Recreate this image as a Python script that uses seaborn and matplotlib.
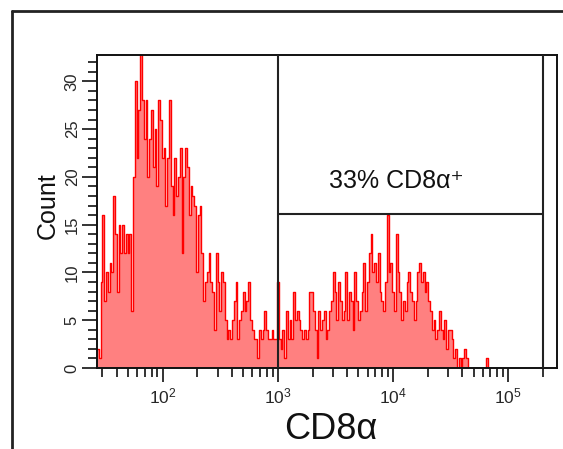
import numpy as np
import pandas as pd
import matplotlib
matplotlib.use("Agg")
import matplotlib.pyplot as plt
from matplotlib.lines import Line2D
from matplotlib.ticker import FixedLocator, FixedFormatter, MultipleLocator, LogLocator, NullFormatter
import seaborn as sns

# CD8α fluorescence histogram: 64 channels per decade, first channel starts at 10^1.43
log_start = 1.43
channels_per_decade = 64
counts = [
    2, 1, 9, 16, 7, 10, 8, 11, 10, 18, 14, 8, 15, 12, 15, 12, 14, 12, 14, 6,
    20, 30, 22, 27, 33, 28, 24, 28, 20, 24, 27, 21, 25, 19, 28, 26, 22, 23, 17, 22,
    28, 19, 16, 22, 18, 20, 23, 12, 20, 23, 21, 16, 19, 18, 17, 10, 16, 17, 12, 7,
    9, 10, 12, 9, 8, 4, 12, 9, 6, 10, 9, 5, 3, 4, 3, 5, 7, 9, 3, 5,
    6, 8, 6, 7, 9, 5, 4, 3, 3, 1, 4, 3, 4, 6, 4, 3, 3, 4, 3, 3,
    9, 3, 2, 4, 1, 6, 3, 5, 3, 8, 5, 6, 5, 4, 3, 4, 3, 4, 8, 8,
    6, 4, 1, 6, 4, 5, 6, 3, 4, 6, 7, 10, 8, 5, 9, 7, 5, 6, 10, 5,
    8, 7, 4, 10, 7, 5, 6, 8, 11, 6, 9, 12, 14, 10, 11, 9, 12, 8, 7, 6,
    9, 16, 10, 11, 8, 6, 14, 10, 8, 5, 7, 6, 9, 10, 8, 7, 5, 7, 10, 11,
    9, 10, 8, 9, 7, 6, 4, 5, 3, 4, 6, 4, 3, 5, 2, 4, 4, 3, 1, 2,
    0, 1, 0, 1, 2, 1, 0, 0, 0, 0, 0, 0, 0, 0, 0, 0, 1, 0,
]

# Gate for the CD8α+ population
gate_low = 1000
gate_high = 2.0e5
gate_level = 16.1
gate_label = "33% CD8α\u207a"

x_major = [1e2, 1e3, 1e4, 1e5]
x_major_labels = [r"$\mathregular{10^{2}}$", r"$\mathregular{10^{3}}$",
                  r"$\mathregular{10^{4}}$", r"$\mathregular{10^{5}}$"]
x_limits = (10 ** 1.43, 10 ** 5.423)
y_limits = (0, 32.75)

sns.set_theme(style="white")
plt.rcParams["font.family"] = ["Liberation Sans", "DejaVu Sans"]
plt.rcParams["mathtext.fontset"] = "custom"
plt.rcParams["mathtext.rm"] = "Liberation Sans"

n = len(counts)
centers = 10 ** (log_start + (np.arange(n) + 0.5) / channels_per_decade)
df = pd.DataFrame({"CD8a": centers, "Count": counts})
bin_range = (log_start, log_start + n / channels_per_decade)

W, H = 563, 449
fig = plt.figure(figsize=(W / 100, H / 100), dpi=100)
ax = fig.add_axes([97 / W, 1 - 368 / H, 460 / W, 313 / H])

# filled body, then the red outline on top
sns.histplot(data=df, x="CD8a", weights="Count", log_scale=True, bins=n,
             binrange=bin_range, element="step", fill=True, color="#ff8080",
             alpha=1, linewidth=0, ax=ax)
sns.histplot(data=df, x="CD8a", weights="Count", log_scale=True, bins=n,
             binrange=bin_range, element="step", fill=False, color="#ff0000",
             linewidth=1.0, ax=ax)

ax.set_xlim(*x_limits)
ax.set_ylim(*y_limits)

# gate
gate_kw = dict(color="#222222", lw=1.5, zorder=5)
ax.axvline(gate_low, **gate_kw)
ax.axvline(gate_high, **gate_kw)
ax.hlines(gate_level, gate_low, gate_high, **gate_kw)
ax.text(10 ** 4.03, 19.6, gate_label, ha="center", va="center", fontsize=18,
        color="#111111")

# axes styling
for s in ax.spines.values():
    s.set_visible(True)
    s.set_color("#111111")
    s.set_linewidth(1.4)

ax.xaxis.set_major_locator(FixedLocator(x_major))
ax.xaxis.set_major_formatter(FixedFormatter(x_major_labels))
ax.xaxis.set_minor_locator(LogLocator(base=10, subs=np.arange(2, 10), numticks=50))
ax.xaxis.set_minor_formatter(NullFormatter())
ax.yaxis.set_major_locator(MultipleLocator(5))
ax.yaxis.set_minor_locator(MultipleLocator(1))

ax.tick_params(axis="x", which="major", direction="out", bottom=True, length=10,
               width=1.2, color="#111111", labelsize=12.5, pad=3)
ax.tick_params(axis="x", which="minor", direction="out", bottom=True, length=6.5,
               width=1.2, color="#111111")
ax.tick_params(axis="y", which="major", direction="out", left=True, length=11,
               width=1.2, color="#111111", labelsize=12, pad=1.5, labelrotation=90)
ax.tick_params(axis="y", which="minor", direction="out", left=True, length=6.5,
               width=1.2, color="#111111")
for lab in ax.get_yticklabels():
    lab.set_va("center")

ax.set_xlabel("CD8α", fontsize=26, color="#111111")
ax.xaxis.label.set_va("center")
ax.xaxis.set_label_coords(0.509, -0.195)
ax.set_ylabel("Count", fontsize=18, color="#111111")
ax.yaxis.label.set_va("center")
ax.yaxis.set_label_coords(-0.108, 0.518)

# outer frame of the panel
frame_kw = dict(color="#222222", lw=2, transform=fig.transFigure)
fig.add_artist(Line2D([12 / W, 12 / W], [0, 1 - 11 / H], **frame_kw))
fig.add_artist(Line2D([12 / W, 1], [1 - 11 / H, 1 - 11 / H], **frame_kw))

fig.savefig("out.png", dpi=100, facecolor="white")
